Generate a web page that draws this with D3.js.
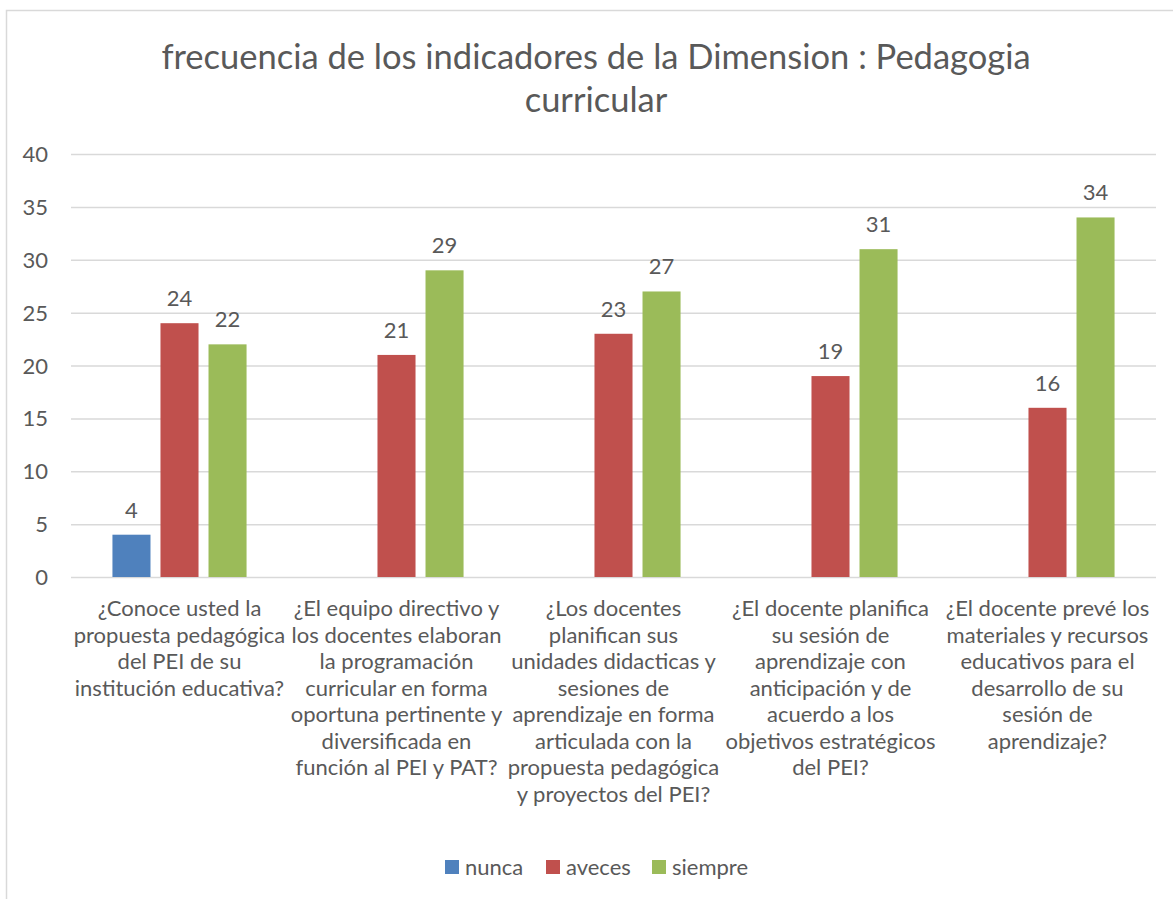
<!DOCTYPE html>
<html lang="es">
<head>
  <meta charset="UTF-8">
  <title>frecuencia de los indicadores de la Dimension : Pedagogia curricular</title>
  <script src="https://d3js.org/d3.v7.min.js"></script>
  <style>
    body { margin: 0; background: #fff; }
    svg { display: block; font-family: Lato, "Open Sans", sans-serif; }
    .grid line { stroke: #d9d9d9; stroke-width: 1.5; }
    .lbl { fill: #595959; }
  </style>
</head>
<body>
  <svg width="1173" height="899"></svg>

  <script>
    // data
    const categories = [
      ["¿Conoce usted la", "propuesta pedagógica", "del PEI de su", "institución educativa?"],
      ["¿El equipo directivo y", "los docentes elaboran", "la programación", "curricular en forma", "oportuna pertinente y", "diversificada en", "función al PEI y PAT?"],
      ["¿Los docentes", "planifican sus", "unidades didacticas y", "sesiones de", "aprendizaje en forma", "articulada con la", "propuesta pedagógica", "y proyectos del PEI?"],
      ["¿El docente planifica", "su sesión de", "aprendizaje con", "anticipación y de", "acuerdo a los", "objetivos estratégicos", "del PEI?"],
      ["¿El docente prevé los", "materiales y recursos", "educativos para el", "desarrollo de su", "sesión de", "aprendizaje?"]
    ];
    const seriesNames = ["nunca", "aveces", "siempre"];
    const nunca = [4, null, null, null, null];
    const aveces = [24, 21, 23, 19, 16];
    const siempre = [22, 29, 27, 31, 34];
    const colors = ["#4f81bd", "#c0504d", "#9bbb59"];
    const yTicks = [0, 5, 10, 15, 20, 25, 30, 35, 40];
    const titleLines = ["frecuencia de los indicadores de la Dimension : Pedagogia", "curricular"];

    const seriesValues = [nunca, aveces, siempre];

    const svg = d3.select("svg");

    // chart frame
    svg.append("rect")
      .attr("x", 6.5).attr("y", 10.5)
      .attr("width", 1300).attr("height", 1000)
      .attr("fill", "none").attr("stroke", "#d9d9d9").attr("stroke-width", 1.5);

    const plot = { left: 71, right: 1156, top: 154, bottom: 577 };

    const x0 = d3.scaleBand()
      .domain(d3.range(categories.length))
      .range([plot.left, plot.right])
      .paddingInner(0.382)
      .paddingOuter(0.191);

    const x1 = d3.scaleBand()
      .domain(seriesNames)
      .range([0, x0.bandwidth()])
      .paddingInner(0.208)
      .paddingOuter(0);

    const y = d3.scaleLinear().domain([0, 40]).range([plot.bottom, plot.top]);

    // title
    svg.append("text")
      .attr("class", "lbl")
      .attr("x", 596).attr("y", 69)
      .attr("text-anchor", "middle")
      .attr("font-size", 34.5)
      .selectAll("tspan")
      .data(titleLines)
      .join("tspan")
      .attr("x", 596)
      .attr("dy", (d, i) => i === 0 ? 0 : 43)
      .text(d => d);

    // gridlines
    svg.append("g")
      .attr("class", "grid")
      .attr("transform", `translate(${plot.left},0)`)
      .call(d3.axisLeft(y).tickValues(yTicks).tickSize(-(plot.right - plot.left)).tickFormat(""))
      .call(g => g.select(".domain").remove());

    // y tick labels
    svg.append("g")
      .selectAll("text")
      .data(yTicks)
      .join("text")
      .attr("class", "lbl")
      .attr("x", 48)
      .attr("y", d => y(d) + 8)
      .attr("text-anchor", "end")
      .attr("font-size", 22)
      .text(d => d);

    // bars
    const groups = svg.append("g")
      .selectAll("g")
      .data(categories.map((c, i) => i))
      .join("g")
      .attr("transform", i => `translate(${x0(i)},0)`);

    const cells = groups.selectAll("g")
      .data(i => seriesNames.map((s, k) => ({ s, k, v: seriesValues[k][i] })).filter(d => d.v != null))
      .join("g");

    cells.append("rect")
      .attr("x", d => x1(d.s))
      .attr("y", d => y(d.v))
      .attr("width", x1.bandwidth())
      .attr("height", d => y(0) - y(d.v))
      .attr("fill", d => colors[d.k]);

    cells.append("text")
      .attr("class", "lbl")
      .attr("x", d => x1(d.s) + x1.bandwidth() / 2)
      .attr("y", d => y(d.v) - 17)
      .attr("text-anchor", "middle")
      .attr("font-size", 22)
      .text(d => d.v);

    // category labels
    svg.append("g")
      .selectAll("text")
      .data(categories)
      .join("text")
      .attr("class", "lbl")
      .attr("text-anchor", "middle")
      .attr("font-size", 22)
      .attr("y", 616)
      .each(function (lines, i) {
        const cx = x0(i) + x0.bandwidth() / 2;
        d3.select(this).selectAll("tspan")
          .data(lines)
          .join("tspan")
          .attr("x", cx)
          .attr("dy", (d, j) => j === 0 ? 0 : 26.5)
          .text(d => d);
      });

    // legend
    const legendX = [445, 546, 652];
    const legend = svg.append("g")
      .selectAll("g")
      .data(seriesNames)
      .join("g")
      .attr("transform", (d, i) => `translate(${legendX[i]},860)`);

    legend.append("rect")
      .attr("width", 14).attr("height", 14)
      .attr("fill", (d, i) => colors[i]);

    legend.append("text")
      .attr("class", "lbl")
      .attr("x", 20).attr("y", 15)
      .attr("font-size", 22)
      .text(d => d);
  </script>
</body>
</html>
